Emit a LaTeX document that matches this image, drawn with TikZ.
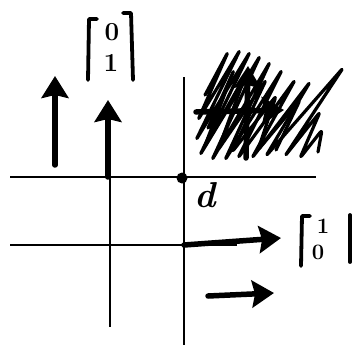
\documentclass[tikz,border=0pt]{standalone}
\usepackage{fontspec}
\usetikzlibrary{arrows.meta}
\begin{document}
\begin{tikzpicture}[x=1pt,y=-1pt,
  axis/.style={line width=1.6pt},
  boldarrow/.style={line width=5.5pt, line cap=round, -{Stealth[length=22pt,width=27pt,inset=3pt]}},
  scribble/.style={line width=3.2pt, line join=round, line cap=round, rounded corners=3pt},
  brack/.style={line width=3.8pt, line cap=round, line join=round},
  digit/.style={inner sep=0pt, font=\fontsize{26}{26}\selectfont\bfseries},
  lbl/.style={inner sep=0pt}]
\useasboundingbox (0,0) rectangle (353,345);
% grid lines
\coordinate (h1l) at (10,177); \coordinate (h1r) at (316,177);
\coordinate (h2l) at (10,245); \coordinate (h2r) at (237,245);
\coordinate (v1t) at (110,177); \coordinate (v1b) at (110,327);
\coordinate (v2t) at (184,77); \coordinate (v2b) at (184,345);
\draw[axis] (h1l) -- (h1r);
\draw[axis] (h2l) -- (h2r);
\draw[axis] (v1t) -- (v1b);
\draw[axis] (v2t) -- (v2b);
% point d
\node[circle,fill,inner sep=0pt,minimum size=11pt] (pd) at (182,178) {};
\node[lbl,font=\fontsize{36}{36}\selectfont\bfseries\itshape] (dl) at (205,195) {d};
% up arrows
\coordinate (a1s) at (55,165); \coordinate (a1e) at (55,76);
\draw[boldarrow] (a1s) -- (a1e);
\coordinate (a2s) at (108,177); \coordinate (a2e) at (108,100);
\draw[boldarrow] (a2s) -- (a2e);
% vector [0;1]
\node[digit] (m1a) at (112,32) {0};
\node[digit] (m1b) at (111,63) {1};
\draw[brack] (97,19) -- (89,19) -- (88,80);
\draw[brack] (123,13) -- (131,13) -- (133,80);
% right arrows
\coordinate (r1s) at (184,245); \coordinate (r1e) at (281,238);
\draw[boldarrow] (r1s) -- (r1e);
% vector [1;0]
\node[digit,font=\fontsize{22}{22}\selectfont\bfseries] (m2a) at (323,226) {1};
\node[digit,font=\fontsize{22}{22}\selectfont\bfseries] (m2b) at (318,252) {0};
\draw[brack] (310,216) -- (302,216) -- (301,266);
\draw[brack] (350,215) -- (350,262);
\coordinate (r2s) at (208,296); \coordinate (r2e) at (274,293);
\draw[boldarrow] (r2s) -- (r2e);
% scribbled region
\draw[scribble] (205,95) -- (228,52) -- (198,120) -- (240,50) -- (196,140) -- (250,52)
  -- (200,155) -- (260,56) -- (212,160) -- (270,62) -- (225,160) -- (282,70)
  -- (238,158) -- (295,80) -- (252,158) -- (310,82) -- (266,156) -- (343,68)
  -- (285,156) -- (320,112) -- (300,158) -- (322,130) -- (318,152);
\draw[scribble] (208,128) -- (234,70) -- (204,148) -- (246,74) -- (218,150)
  -- (266,80) -- (232,152) -- (276,96) -- (258,150) -- (300,100) -- (276,150);
% cross inside scribble
\coordinate (cvs) at (246,158); \coordinate (cve) at (248,66);
\draw[boldarrow] (cvs) -- (cve);
\coordinate (chs) at (196,112); \coordinate (che) at (284,110);
\draw[boldarrow] (chs) -- (che);
\end{tikzpicture}
\end{document}
